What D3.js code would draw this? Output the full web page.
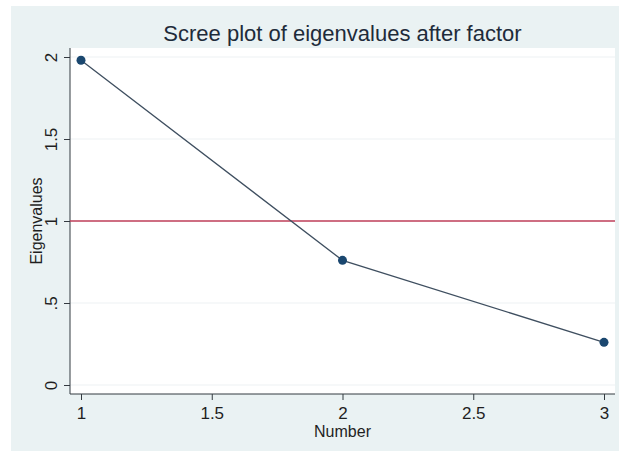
<!DOCTYPE html>
<html>
<head>
<meta charset="utf-8">
<script src="https://cdn.jsdelivr.net/npm/d3@7"></script>
<style>
  html, body { margin: 0; padding: 0; background: #ffffff; }
  svg { display: block; font-family: "Liberation Sans", Arial, sans-serif; }
</style>
</head>
<body>
<svg id="chart" width="619" height="451"></svg>
<script>
// Eigenvalues from the factor analysis, one per factor number
const factorNumbers = [1, 2, 3];
const eigenvalues = [1.98, 0.76, 0.26];
const xTicks = [1, 1.5, 2, 2.5, 3];
const yTicks = [0, 0.5, 1, 1.5, 2];
const referenceLevel = 1;

const svg = d3.select("#chart");

// Outer graph region
svg.append("rect")
  .attr("x", 11).attr("y", 6)
  .attr("width", 608).attr("height", 445)
  .attr("fill", "#eaf2f3");

const plot = { left: 70, top: 48, right: 615, bottom: 394 };

svg.append("rect")
  .attr("x", plot.left).attr("y", plot.top)
  .attr("width", plot.right - plot.left).attr("height", plot.bottom - plot.top)
  .attr("fill", "#ffffff");

const x = d3.scaleLinear().domain([1, 3]).range([81, 604]);
const y = d3.scaleLinear().domain([0, 2]).range([385, 57]);

// Horizontal grid lines
svg.append("g")
  .selectAll("line")
  .data(yTicks)
  .join("line")
  .attr("x1", plot.left).attr("x2", plot.right)
  .attr("y1", d => y(d)).attr("y2", d => y(d))
  .attr("stroke", "#edf1f3")
  .attr("stroke-width", 1);

// Y axis
const yAxis = svg.append("g")
  .attr("transform", `translate(${plot.left},0)`)
  .call(d3.axisLeft(y).tickValues(yTicks).tickSize(6).tickPadding(4)
    .tickFormat(d => d === 0 ? "0" : d3.format("")(d).replace(/^0\./, ".")));
yAxis.select(".domain")
  .attr("d", `M0,${plot.top}V${plot.bottom}`)
  .attr("stroke", "#333a40");
yAxis.selectAll(".tick line").attr("stroke", "#333a40");
yAxis.selectAll(".tick text")
  .attr("font-size", 17)
  .attr("fill", "#1f1f1f")
  .attr("text-anchor", "middle")
  .attr("dy", 0)
  .attr("x", 0)
  .attr("transform", "translate(-13,0) rotate(-90)");

// X axis
const xAxis = svg.append("g")
  .attr("transform", `translate(0,${plot.bottom})`)
  .call(d3.axisBottom(x).tickValues(xTicks).tickSize(6).tickPadding(4)
    .tickFormat(d3.format("")));
xAxis.select(".domain")
  .attr("d", `M${plot.left},0H${plot.right}`)
  .attr("stroke", "#333a40");
xAxis.selectAll(".tick line").attr("stroke", "#333a40");
xAxis.selectAll(".tick text")
  .attr("font-size", 17)
  .attr("fill", "#1f1f1f")
  .attr("dy", 0)
  .attr("y", 25);

// Reference line at eigenvalue = 1
svg.append("line")
  .attr("x1", plot.left).attr("x2", plot.right)
  .attr("y1", y(referenceLevel)).attr("y2", y(referenceLevel))
  .attr("stroke", "#c1405a")
  .attr("stroke-width", 1.5);

// Scree line and markers
const pts = factorNumbers.map((n, i) => [n, eigenvalues[i]]);
svg.append("path")
  .datum(pts)
  .attr("fill", "none")
  .attr("stroke", "#3f4f60")
  .attr("stroke-width", 1.3)
  .attr("d", d3.line().x(d => x(d[0])).y(d => y(d[1])));

svg.append("g")
  .selectAll("circle")
  .data(pts)
  .join("circle")
  .attr("cx", d => x(d[0]))
  .attr("cy", d => y(d[1]))
  .attr("r", 4.5)
  .attr("fill", "#1a476f");

// Titles
svg.append("text")
  .attr("x", (plot.left + plot.right) / 2)
  .attr("y", 41)
  .attr("text-anchor", "middle")
  .attr("font-size", 22)
  .attr("fill", "#1e2b3a")
  .text("Scree plot of eigenvalues after factor");

svg.append("text")
  .attr("transform", `translate(42,${(y(0) + y(2)) / 2}) rotate(-90)`)
  .attr("text-anchor", "middle")
  .attr("font-size", 16)
  .attr("fill", "#1f1f1f")
  .text("Eigenvalues");

svg.append("text")
  .attr("x", x(2))
  .attr("y", 437)
  .attr("text-anchor", "middle")
  .attr("font-size", 16)
  .attr("fill", "#1f1f1f")
  .text("Number");
</script>
</body>
</html>
